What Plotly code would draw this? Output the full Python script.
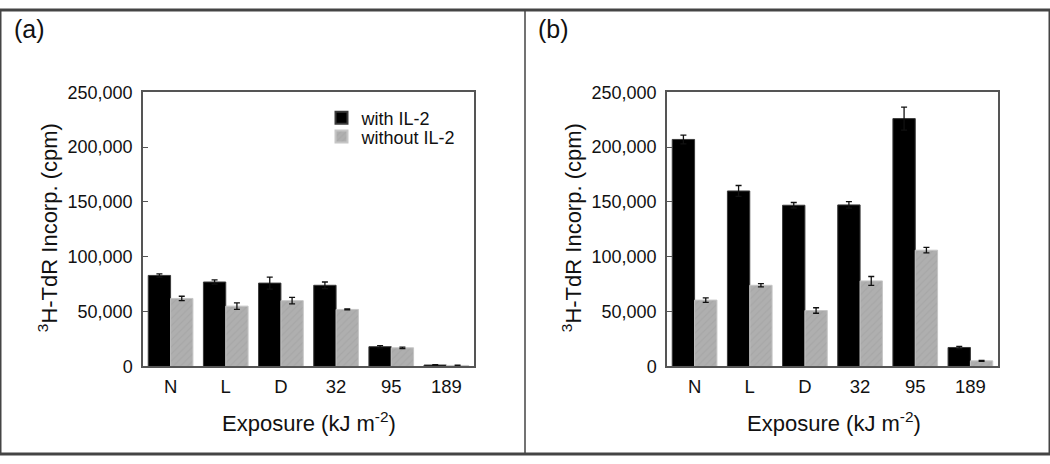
import plotly.graph_objects as go

categories = ["N", "L", "D", "32", "95", "189"]

# Panel (a)
a_with = [83000, 77000, 76000, 74000, 18000, 1300]
a_with_err = [1500, 2000, 5500, 3000, 1000, 300]
a_without = [62000, 55000, 60000, 52000, 17000, 900]
a_without_err = [2000, 3000, 3000, 500, 700, 200]

# Panel (b)
b_with = [207000, 160000, 147000, 147300, 226000, 17300]
b_with_err = [4000, 5000, 2500, 3000, 10500, 1000]
b_without = [60500, 74000, 51000, 78000, 106000, 5100]
b_without_err = [2000, 1500, 2500, 4000, 2500, 500]

y_ticks = [0, 50000, 100000, 150000, 200000, 250000]
series_names = ["with IL-2", "without IL-2"]

FONT = "Liberation Sans, Arial, sans-serif"
BLACK = "#000000"
GRAY = "#afafaf"

fig = go.Figure()

def add_panel(vals_w, err_w, vals_wo, err_wo, xa, ya, show):
    fig.add_trace(go.Bar(
        x=categories, y=vals_w, name=series_names[0], xaxis=xa, yaxis=ya,
        marker=dict(color=BLACK, line=dict(color="#3a3a3a", width=1)),
        error_y=dict(type="data", array=err_w, visible=True, color="#111111",
                     thickness=1.3, width=3),
        showlegend=show, legend="legend"))
    fig.add_trace(go.Bar(
        x=categories, y=vals_wo, name=series_names[1], xaxis=xa, yaxis=ya,
        marker=dict(color=GRAY, line=dict(color="#c6c6c6", width=1),
                    pattern=dict(shape="/", fillmode="overlay", fgcolor="#a0a0a0",
                                 size=5, solidity=0.25)),
        error_y=dict(type="data", array=err_wo, visible=True, color="#111111",
                     thickness=1.3, width=3),
        showlegend=show, legend="legend2"))

add_panel(a_with, a_with_err, a_without, a_without_err, "x", "y", True)
add_panel(b_with, b_with_err, b_without, b_without_err, "x2", "y2", False)

W, H = 1050, 464
px_x = lambda v: v / W
px_y = lambda v: 1 - v / H

ydom = [px_y(372.5), px_y(86)]
axis_common = dict(showline=True, linecolor="#555555", linewidth=1.5, mirror=True,
                   showgrid=False, zeroline=False)

x_common = dict(axis_common, type="category", range=[-0.5, 5.5], ticks="",
                tickfont=dict(family=FONT, size=18.5, color="#111111"),
                ticklabelstandoff=3)
y_common = dict(axis_common, range=[0, 250000], tickvals=y_ticks, tickformat=",d",
                ticks="inside", ticklen=5, tickcolor="#555555", tickwidth=1.2,
                tickfont=dict(family=FONT, size=18, color="#111111"),
                ticklabelstandoff=5, domain=ydom)

legend_common = dict(xanchor="left", yanchor="middle", bgcolor="rgba(0,0,0,0)",
                     font=dict(family=FONT, size=18, color="#111111"),
                     itemsizing="constant")

fig.update_layout(
    width=W, height=H,
    margin=dict(l=0, r=0, t=0, b=0),
    paper_bgcolor="white", plot_bgcolor="white",
    barmode="group", bargap=0.19, bargroupgap=0,
    font=dict(family=FONT, color="#111111"),
    xaxis=dict(x_common, domain=[px_x(143), px_x(474)], anchor="y"),
    yaxis=dict(y_common, anchor="x"),
    xaxis2=dict(x_common, domain=[px_x(667), px_x(998)], anchor="y2"),
    yaxis2=dict(y_common, anchor="x2"),
    legend=dict(legend_common, x=px_x(321.5), y=px_y(113)),
    legend2=dict(legend_common, x=px_x(321.5), y=px_y(132.5)),
)

ytitle = "<sup>3</sup>H-TdR Incorp. (cpm)"
xtitle = "Exposure (kJ m<sup>-2</sup>)"
ann = []
for xc_title, xc_plot, label, xl in [(48, 308.5, "(a)", 29), (572, 834, "(b)", 553)]:
    ann.append(dict(text=ytitle, x=px_x(xc_title), y=px_y(228), xref="paper", yref="paper",
                    textangle=-90, showarrow=False, xanchor="center", yanchor="middle",
                    font=dict(family=FONT, size=22, color="#111111")))
    ann.append(dict(text=xtitle, x=px_x(xc_plot), y=px_y(431), xref="paper", yref="paper",
                    showarrow=False, xanchor="center", yanchor="middle",
                    font=dict(family=FONT, size=22, color="#111111")))
    ann.append(dict(text=label, x=px_x(xl), y=px_y(20), xref="paper", yref="paper",
                    showarrow=False, xanchor="center", yanchor="middle",
                    font=dict(family=FONT, size=25, color="#111111")))
fig.update_layout(annotations=ann)

fig.update_layout(shapes=[
    dict(type="rect", xref="paper", yref="paper", x0=0, x1=1, y0=0, y1=1,
         line=dict(color="#444444", width=3)),
    dict(type="line", xref="paper", yref="paper", x0=px_x(525), x1=px_x(525), y0=0, y1=1,
         line=dict(color="#444444", width=1.5)),
])

fig.write_html("out.html", config={"displayModeBar": False},
               post_script=("document.body.style.margin='0';document.body.style.overflow='hidden';"
                            "var d=document.getElementsByClassName('plotly-graph-div')[0];"
                            "d.style.position='fixed';d.style.top='0px';d.style.left='0px';"))
